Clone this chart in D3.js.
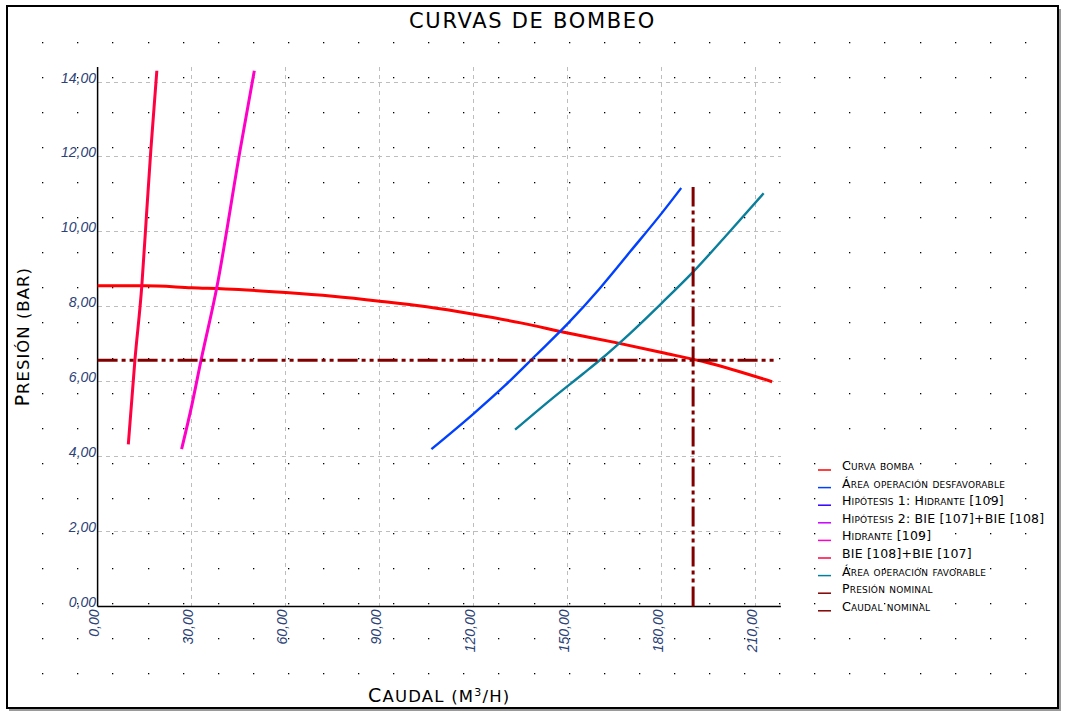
<!DOCTYPE html>
<html>
<head>
<meta charset="utf-8">
<script src="https://cdn.jsdelivr.net/npm/d3@7"></script>
<style>
  body { margin: 0; background: #fff; }
  svg { display: block; }
  text { font-family: "DejaVu Sans", sans-serif; }
</style>
</head>
<body>
<svg id="chart" width="1067" height="714"></svg>
<script>
// caudal (m3/h) / presion (bar)
const pumpFlow = [0, 15, 30, 45, 60, 75, 90, 105, 120, 135, 150, 165, 180, 195, 215.2];
const pumpPres = [8.56, 8.56, 8.51, 8.46, 8.38, 8.28, 8.15, 8.0, 7.8, 7.57, 7.3, 7.05, 6.78, 6.5, 6.0];

const desfFlow = [106.5, 120, 130, 140, 150, 160, 170, 180, 186.2];
const desfPres = [4.2, 5.15, 5.9, 6.72, 7.55, 8.47, 9.48, 10.5, 11.17];

const favFlow = [133.2, 145, 155, 160, 170, 180, 190, 200, 212.5];
const favPres = [4.72, 5.55, 6.22, 6.56, 7.3, 8.1, 8.93, 9.85, 11.03];

const bieFlow = [9.8, 11.9, 14.1, 15.7, 17.0, 18.9];
const biePres = [4.33, 6.57, 8.55, 10.58, 12.2, 14.3];

const hidFlow = [26.8, 30, 33, 38, 45.4, 50];
const hidPres = [4.2, 5.35, 6.57, 8.5, 12.15, 14.3];

const nominalPres = 6.57;
const nominalPresMaxFlow = 216;
const nominalFlow = 190;
const nominalFlowMaxPres = 11.2;

const xTicks = [0, 30, 60, 90, 120, 150, 180, 210];
const yTicks = [0, 2, 4, 6, 8, 10, 12, 14];

const legendLabels = [
  "Curva bomba",
  "Área operación desfavorable",
  "Hipótesis 1: Hidrante [109]",
  "Hipótesis 2: BIE [107]+BIE [108]",
  "Hidrante [109]",
  "BIE [108]+BIE [107]",
  "Área operación favorable",
  "Presión nominal",
  "Caudal nominal"
];
const legendColors = ["#ff0000", "#0040ff", "#3000ff", "#c800ff", "#ff00c8", "#ff0040", "#00809c", "#800000", "#800000"];

const svg = d3.select("#chart");

const x = d3.scaleLinear().domain([0, 210]).range([97.6, 755.8]);
const y = d3.scaleLinear().domain([0, 14]).range([606.5, 82]);
const xMax = 218;
const yMax = 14.4;

const fmt = v => d3.format(".2f")(v).replace(".", ",");

// dot grid over the whole sheet
const dotsX = d3.range(0, 29).map(i => 42.3 + i * 35.09);
const dotsY = d3.range(0, 19).map(i => 41.7 + i * 35.09);
const dots = [];
dotsX.forEach(dx => dotsY.forEach(dy => dots.push([dx, dy])));
svg.append("g")
  .selectAll("rect")
  .data(dots)
  .enter()
  .append("rect")
  .attr("x", d => Math.round(d[0]))
  .attr("y", d => Math.round(d[1]))
  .attr("width", 1.3)
  .attr("height", 1.3)
  .style("fill", "#000");

// frame
svg.append("line").attr("x1", 1060).attr("y1", 9).attr("x2", 1060).attr("y2", 711)
  .style("stroke", "#9a9a9a").style("stroke-width", 2);
svg.append("line").attr("x1", 9).attr("y1", 710).attr("x2", 1061).attr("y2", 710)
  .style("stroke", "#9a9a9a").style("stroke-width", 2);
svg.append("rect")
  .attr("x", 7).attr("y", 6).attr("width", 1051).attr("height", 702)
  .style("fill", "none").style("stroke", "#000").style("stroke-width", 2);

// title
svg.append("text")
  .attr("x", 532.5).attr("y", 27.5)
  .attr("text-anchor", "middle")
  .style("font-size", "21px")
  .style("letter-spacing", "1.7px")
  .text("CURVAS DE BOMBEO");

// grid
const grid = svg.append("g")
  .style("stroke", "#bdbdbd")
  .style("stroke-width", 1)
  .style("stroke-dasharray", "4,4")
  .attr("shape-rendering", "crispEdges");
grid.selectAll(".vgrid")
  .data(xTicks.filter(d => d > 0))
  .enter()
  .append("line")
  .attr("class", "vgrid")
  .attr("x1", d => x(d)).attr("x2", d => x(d))
  .attr("y1", y(0)).attr("y2", y(yMax));
grid.selectAll(".hgrid")
  .data(yTicks.filter(d => d > 0))
  .enter()
  .append("line")
  .attr("class", "hgrid")
  .attr("x1", x(0)).attr("x2", x(xMax))
  .attr("y1", d => y(d)).attr("y2", d => y(d));

// axes
const xAxis = svg.append("g")
  .attr("transform", `translate(0,${y(0)})`)
  .call(d3.axisBottom(x).tickValues(xTicks).tickSize(0).tickFormat(""));
xAxis.select(".domain").attr("d", `M${x(0)},0H${x(xMax)}`).style("stroke", "#000").style("stroke-width", 1.5);

const yAxis = svg.append("g")
  .attr("transform", `translate(${x(0)},0)`)
  .call(d3.axisLeft(y).tickValues(yTicks).tickSize(0).tickFormat(""));
yAxis.select(".domain").attr("d", `M0,${y(0)}V${y(yMax)}`).style("stroke", "#000").style("stroke-width", 1.5);

svg.append("g")
  .selectAll("text")
  .data(yTicks)
  .enter()
  .append("text")
  .attr("x", x(0) - 1.5)
  .attr("y", d => y(d) + 0.5)
  .attr("text-anchor", "end")
  .style("font-family", "'Liberation Sans', sans-serif")
  .style("font-style", "italic")
  .style("font-size", "14px")
  .style("fill", "#2c4276")
  .text(fmt);

svg.append("g")
  .selectAll("text")
  .data(xTicks)
  .enter()
  .append("text")
  .attr("transform", d => `translate(${x(d) + 1},${y(0) + 3}) rotate(-90)`)
  .attr("text-anchor", "end")
  .style("font-family", "'Liberation Sans', sans-serif")
  .style("font-style", "italic")
  .style("font-size", "14px")
  .style("fill", "#2c4276")
  .text(fmt);

// axis titles, written as small caps by hand
const xTitle = svg.append("text")
  .attr("x", (x(0) + x(xMax)) / 2)
  .attr("y", 702)
  .attr("text-anchor", "middle")
  .style("letter-spacing", "1.2px");
xTitle.append("tspan").style("font-size", "19px").text("C");
xTitle.append("tspan").style("font-size", "16.5px").text("AUDAL (M");
xTitle.append("tspan").style("font-size", "11px").attr("dy", -6).text("3");
xTitle.append("tspan").style("font-size", "16.5px").attr("dy", 6).text("/H)");

const yTitle = svg.append("text")
  .attr("transform", `translate(28.5,${(y(0) + y(yMax)) / 2}) rotate(-90)`)
  .attr("text-anchor", "middle")
  .style("letter-spacing", "1px");
yTitle.append("tspan").style("font-size", "19px").text("P");
yTitle.append("tspan").style("font-size", "16.5px").text("RESIÓN (BAR)");

// curves
const line = d3.line().x(d => x(d[0])).y(d => y(d[1])).curve(d3.curveMonotoneX);
const series = [
  { flow: pumpFlow, pres: pumpPres, color: "#ff0000", width: 3 },
  { flow: desfFlow, pres: desfPres, color: "#0040ff", width: 2.4 },
  { flow: favFlow, pres: favPres, color: "#0a7f9c", width: 2.4 },
  { flow: bieFlow, pres: biePres, color: "#ff0040", width: 3 },
  { flow: hidFlow, pres: hidPres, color: "#ff00c8", width: 3 }
];
svg.append("g")
  .selectAll("path")
  .data(series)
  .enter()
  .append("path")
  .attr("d", s => line(s.flow.map((f, i) => [f, s.pres[i]])))
  .style("fill", "none")
  .style("stroke", s => s.color)
  .style("stroke-width", s => s.width);

// nominal point lines
const nominal = svg.append("g")
  .style("stroke", "#800000")
  .style("stroke-width", 3)
  .style("stroke-dasharray", "20,4,4,4,4,4");
nominal.append("line")
  .attr("x1", x(0)).attr("x2", x(nominalPresMaxFlow))
  .attr("y1", y(nominalPres)).attr("y2", y(nominalPres));
nominal.append("line")
  .attr("x1", x(nominalFlow)).attr("x2", x(nominalFlow))
  .attr("y1", y(0)).attr("y2", y(nominalFlowMaxPres));

// legend
const legend = svg.append("g")
  .selectAll(".entry")
  .data(legendLabels)
  .enter()
  .append("g")
  .attr("class", "entry")
  .attr("transform", (d, i) => `translate(0,${470 + i * 17.6})`);
legend.append("line")
  .attr("x1", 818).attr("x2", 831)
  .attr("y1", 0).attr("y2", 0)
  .style("stroke", (d, i) => legendColors[i])
  .style("stroke-width", 1.5);
legend.append("text")
  .attr("x", 842)
  .attr("y", 0)
  .style("font-size", "12.5px")
  .style("font-variant", "small-caps")
  .style("letter-spacing", "0.2px")
  .text(d => d);
</script>
</body>
</html>
